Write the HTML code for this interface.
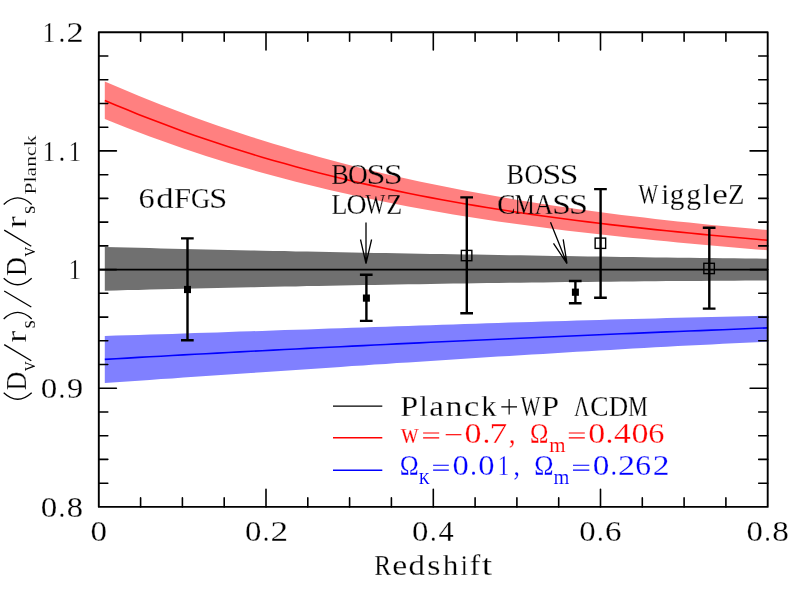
<!DOCTYPE html>
<html><head><meta charset="utf-8"><title>BAO distance ladder</title>
<style>html,body{margin:0;padding:0;background:#fff}svg{display:block;font-family:"Liberation Serif",serif}</style></head><body>
<svg width="797" height="592" viewBox="0 0 797 592">
<rect width="797" height="592" fill="#fff"/>
<path d="M104.8,81.4 L116.0,86.3 L127.3,91.0 L138.5,95.7 L149.7,100.3 L161.0,104.7 L172.2,109.1 L183.4,113.3 L194.7,117.4 L205.9,121.5 L217.2,125.4 L228.4,129.3 L239.6,133.0 L250.9,136.7 L262.1,140.3 L273.3,143.7 L284.6,147.1 L295.8,150.4 L307.0,153.6 L318.3,156.8 L329.5,159.8 L340.7,162.8 L352.0,165.7 L363.2,168.5 L374.5,171.2 L385.7,173.9 L396.9,176.4 L408.2,178.9 L419.4,181.4 L430.6,183.7 L441.9,186.0 L453.1,188.3 L464.3,190.5 L475.6,192.6 L486.8,194.6 L498.0,196.6 L509.3,198.5 L520.5,200.4 L531.8,202.2 L543.0,204.0 L554.2,205.7 L565.5,207.3 L576.7,208.9 L587.9,210.5 L599.2,212.0 L610.4,213.4 L621.6,214.9 L632.9,216.2 L644.1,217.6 L655.3,218.9 L666.6,220.2 L677.8,221.4 L689.1,222.6 L700.3,223.7 L711.5,224.9 L722.8,226.0 L734.0,227.0 L745.2,228.1 L756.5,229.1 L767.7,230.1 L767.7,250.3 L756.5,249.4 L745.2,248.4 L734.0,247.5 L722.8,246.5 L711.5,245.5 L700.3,244.5 L689.1,243.4 L677.8,242.4 L666.6,241.3 L655.3,240.2 L644.1,239.1 L632.9,238.0 L621.6,236.8 L610.4,235.6 L599.2,234.3 L587.9,233.1 L576.7,231.8 L565.5,230.4 L554.2,229.0 L543.0,227.6 L531.8,226.1 L520.5,224.6 L509.3,223.0 L498.0,221.4 L486.8,219.7 L475.6,218.0 L464.3,216.2 L453.1,214.4 L441.9,212.5 L430.6,210.6 L419.4,208.6 L408.2,206.5 L396.9,204.3 L385.7,202.1 L374.5,199.8 L363.2,197.5 L352.0,195.0 L340.7,192.5 L329.5,189.9 L318.3,187.3 L307.0,184.5 L295.8,181.7 L284.6,178.8 L273.3,175.8 L262.1,172.7 L250.9,169.5 L239.6,166.3 L228.4,162.9 L217.2,159.4 L205.9,155.9 L194.7,152.2 L183.4,148.4 L172.2,144.6 L161.0,140.6 L149.7,136.5 L138.5,132.3 L127.3,128.0 L116.0,123.6 L104.8,119.1Z" fill="#ff8080"/>
<path d="M104.8,100.4 L116.0,105.2 L127.3,109.8 L138.5,114.4 L149.7,118.8 L161.0,123.1 L172.2,127.3 L183.4,131.4 L194.7,135.4 L205.9,139.3 L217.2,143.0 L228.4,146.7 L239.6,150.3 L250.9,153.8 L262.1,157.2 L273.3,160.4 L284.6,163.6 L295.8,166.7 L307.0,169.8 L318.3,172.7 L329.5,175.5 L340.7,178.3 L352.0,181.0 L363.2,183.6 L374.5,186.1 L385.7,188.5 L396.9,190.9 L408.2,193.2 L419.4,195.5 L430.6,197.6 L441.9,199.7 L453.1,201.8 L464.3,203.7 L475.6,205.6 L486.8,207.5 L498.0,209.3 L509.3,211.0 L520.5,212.7 L531.8,214.4 L543.0,216.0 L554.2,217.5 L565.5,219.0 L576.7,220.5 L587.9,221.9 L599.2,223.2 L610.4,224.6 L621.6,225.9 L632.9,227.1 L644.1,228.4 L655.3,229.6 L666.6,230.7 L677.8,231.9 L689.1,233.0 L700.3,234.1 L711.5,235.2 L722.8,236.2 L734.0,237.3 L745.2,238.3 L756.5,239.3 L767.7,240.3" fill="none" stroke="#ff0000" stroke-width="1.6"/>
<path d="M104.8,246.9 L116.0,247.2 L127.3,247.5 L138.5,247.8 L149.7,248.1 L161.0,248.4 L172.2,248.7 L183.4,249.0 L194.7,249.3 L205.9,249.5 L217.2,249.7 L228.4,250.0 L239.6,250.2 L250.9,250.5 L262.1,250.7 L273.3,250.9 L284.6,251.1 L295.8,251.4 L307.0,251.6 L318.3,251.8 L329.5,252.0 L340.7,252.2 L352.0,252.4 L363.2,252.7 L374.5,252.9 L385.7,253.1 L396.9,253.3 L408.2,253.5 L419.4,253.7 L430.6,253.9 L441.9,254.1 L453.1,254.3 L464.3,254.4 L475.6,254.6 L486.8,254.8 L498.0,255.0 L509.3,255.2 L520.5,255.3 L531.8,255.5 L543.0,255.7 L554.2,255.9 L565.5,256.1 L576.7,256.2 L587.9,256.4 L599.2,256.6 L610.4,256.7 L621.6,256.9 L632.9,257.1 L644.1,257.2 L655.3,257.4 L666.6,257.5 L677.8,257.7 L689.1,257.8 L700.3,257.9 L711.5,258.1 L722.8,258.2 L734.0,258.3 L745.2,258.5 L756.5,258.6 L767.7,258.7 L767.7,280.5 L756.5,280.5 L745.2,280.6 L734.0,280.7 L722.8,280.7 L711.5,280.8 L700.3,280.9 L689.1,281.0 L677.8,281.1 L666.6,281.1 L655.3,281.2 L644.1,281.3 L632.9,281.4 L621.6,281.6 L610.4,281.7 L599.2,281.8 L587.9,281.9 L576.7,282.0 L565.5,282.1 L554.2,282.3 L543.0,282.4 L531.8,282.6 L520.5,282.7 L509.3,282.8 L498.0,283.0 L486.8,283.1 L475.6,283.3 L464.3,283.5 L453.1,283.6 L441.9,283.8 L430.6,284.0 L419.4,284.2 L408.2,284.3 L396.9,284.5 L385.7,284.7 L374.5,284.9 L363.2,285.1 L352.0,285.3 L340.7,285.5 L329.5,285.7 L318.3,285.9 L307.0,286.1 L295.8,286.4 L284.6,286.6 L273.3,286.8 L262.1,287.0 L250.9,287.3 L239.6,287.5 L228.4,287.8 L217.2,288.0 L205.9,288.3 L194.7,288.5 L183.4,288.8 L172.2,289.0 L161.0,289.3 L149.7,289.6 L138.5,289.9 L127.3,290.1 L116.0,290.4 L104.8,290.7Z" fill="#707070"/>
<path d="M98.8,269.6 L767.7,269.6" fill="none" stroke="#000" stroke-width="1.6"/>
<path d="M104.8,336.0 L116.0,335.6 L127.3,335.3 L138.5,334.9 L149.7,334.6 L161.0,334.2 L172.2,333.9 L183.4,333.5 L194.7,333.1 L205.9,332.8 L217.2,332.4 L228.4,332.0 L239.6,331.6 L250.9,331.3 L262.1,330.9 L273.3,330.5 L284.6,330.1 L295.8,329.7 L307.0,329.4 L318.3,329.0 L329.5,328.6 L340.7,328.2 L352.0,327.8 L363.2,327.4 L374.5,327.1 L385.7,326.7 L396.9,326.3 L408.2,325.9 L419.4,325.5 L430.6,325.2 L441.9,324.8 L453.1,324.4 L464.3,324.1 L475.6,323.7 L486.8,323.3 L498.0,323.0 L509.3,322.6 L520.5,322.3 L531.8,321.9 L543.0,321.6 L554.2,321.2 L565.5,320.9 L576.7,320.5 L587.9,320.2 L599.2,319.9 L610.4,319.6 L621.6,319.3 L632.9,319.0 L644.1,318.7 L655.3,318.4 L666.6,318.1 L677.8,317.8 L689.1,317.5 L700.3,317.3 L711.5,317.0 L722.8,316.7 L734.0,316.5 L745.2,316.3 L756.5,316.0 L767.7,315.8 L767.7,341.6 L756.5,342.2 L745.2,342.7 L734.0,343.3 L722.8,343.8 L711.5,344.4 L700.3,345.0 L689.1,345.5 L677.8,346.1 L666.6,346.7 L655.3,347.3 L644.1,348.0 L632.9,348.6 L621.6,349.2 L610.4,349.9 L599.2,350.5 L587.9,351.2 L576.7,351.8 L565.5,352.5 L554.2,353.2 L543.0,353.9 L531.8,354.5 L520.5,355.2 L509.3,355.9 L498.0,356.6 L486.8,357.3 L475.6,358.0 L464.3,358.8 L453.1,359.5 L441.9,360.2 L430.6,360.9 L419.4,361.7 L408.2,362.4 L396.9,363.1 L385.7,363.9 L374.5,364.6 L363.2,365.4 L352.0,366.1 L340.7,366.9 L329.5,367.7 L318.3,368.4 L307.0,369.2 L295.8,369.9 L284.6,370.7 L273.3,371.5 L262.1,372.2 L250.9,373.0 L239.6,373.8 L228.4,374.5 L217.2,375.3 L205.9,376.1 L194.7,376.8 L183.4,377.6 L172.2,378.4 L161.0,379.1 L149.7,379.9 L138.5,380.7 L127.3,381.4 L116.0,382.2 L104.8,382.9Z" fill="#8080ff"/>
<path d="M104.8,359.4 L116.0,358.7 L127.3,358.1 L138.5,357.4 L149.7,356.8 L161.0,356.2 L172.2,355.5 L183.4,354.9 L194.7,354.3 L205.9,353.7 L217.2,353.1 L228.4,352.5 L239.6,351.9 L250.9,351.3 L262.1,350.7 L273.3,350.1 L284.6,349.5 L295.8,349.0 L307.0,348.4 L318.3,347.8 L329.5,347.2 L340.7,346.7 L352.0,346.1 L363.2,345.6 L374.5,345.0 L385.7,344.5 L396.9,343.9 L408.2,343.4 L419.4,342.9 L430.6,342.3 L441.9,341.8 L453.1,341.3 L464.3,340.8 L475.6,340.2 L486.8,339.7 L498.0,339.2 L509.3,338.7 L520.5,338.2 L531.8,337.7 L543.0,337.2 L554.2,336.7 L565.5,336.2 L576.7,335.7 L587.9,335.3 L599.2,334.8 L610.4,334.3 L621.6,333.8 L632.9,333.4 L644.1,332.9 L655.3,332.4 L666.6,331.9 L677.8,331.5 L689.1,331.0 L700.3,330.6 L711.5,330.1 L722.8,329.7 L734.0,329.2 L745.2,328.8 L756.5,328.3 L767.7,327.9" fill="none" stroke="#0000ff" stroke-width="1.6"/>
<rect x="98.8" y="32.3" width="668.9" height="474.6" fill="none" stroke="#000" stroke-width="1.9" stroke-linejoin="round"/>
<path d="M140.6,506.9 v-9.0 M140.6,32.3 v9.0 M182.4,506.9 v-9.0 M182.4,32.3 v9.0 M224.2,506.9 v-9.0 M224.2,32.3 v9.0 M266.0,506.9 v-17.6 M266.0,32.3 v17.6 M307.8,506.9 v-9.0 M307.8,32.3 v9.0 M349.6,506.9 v-9.0 M349.6,32.3 v9.0 M391.4,506.9 v-9.0 M391.4,32.3 v9.0 M433.3,506.9 v-17.6 M433.3,32.3 v17.6 M475.1,506.9 v-9.0 M475.1,32.3 v9.0 M516.9,506.9 v-9.0 M516.9,32.3 v9.0 M558.7,506.9 v-9.0 M558.7,32.3 v9.0 M600.5,506.9 v-17.6 M600.5,32.3 v17.6 M642.3,506.9 v-9.0 M642.3,32.3 v9.0 M684.1,506.9 v-9.0 M684.1,32.3 v9.0 M725.9,506.9 v-9.0 M725.9,32.3 v9.0 M98.8,483.2 h9.0 M767.7,483.2 h-9.0 M98.8,459.4 h9.0 M767.7,459.4 h-9.0 M98.8,435.7 h9.0 M767.7,435.7 h-9.0 M98.8,412.0 h9.0 M767.7,412.0 h-9.0 M98.8,388.2 h17.6 M767.7,388.2 h-17.6 M98.8,364.5 h9.0 M767.7,364.5 h-9.0 M98.8,340.8 h9.0 M767.7,340.8 h-9.0 M98.8,317.1 h9.0 M767.7,317.1 h-9.0 M98.8,293.3 h9.0 M767.7,293.3 h-9.0 M98.8,269.6 h17.6 M767.7,269.6 h-17.6 M98.8,245.9 h9.0 M767.7,245.9 h-9.0 M98.8,222.1 h9.0 M767.7,222.1 h-9.0 M98.8,198.4 h9.0 M767.7,198.4 h-9.0 M98.8,174.7 h9.0 M767.7,174.7 h-9.0 M98.8,150.9 h17.6 M767.7,150.9 h-17.6 M98.8,127.2 h9.0 M767.7,127.2 h-9.0 M98.8,103.5 h9.0 M767.7,103.5 h-9.0 M98.8,79.8 h9.0 M767.7,79.8 h-9.0 M98.8,56.0 h9.0 M767.7,56.0 h-9.0" stroke="#000" stroke-width="1.6" stroke-linecap="round" fill="none"/>
<path d="M187.5,238.4 V340.2 M181.0,238.4 h12.7 M181.0,340.2 h12.7" stroke="#000" stroke-width="2.4" fill="none"/>
<rect x="184.0" y="285.9" width="7" height="7.2" fill="#000"/>
<path d="M366.4,274.8 V320.9 M359.9,274.8 h12.7 M359.9,320.9 h12.7" stroke="#000" stroke-width="2.4" fill="none"/>
<rect x="362.9" y="294.5" width="7" height="7.2" fill="#000"/>
<path d="M466.8,197.4 V313.3 M460.3,197.4 h12.7 M460.3,313.3 h12.7" stroke="#000" stroke-width="2.4" fill="none"/>
<rect x="461.35" y="250.40" width="10.5" height="10.3" fill="none" stroke="#000" stroke-width="1.4"/>
<path d="M575.4,281 V303.3 M568.9,281 h12.7 M568.9,303.3 h12.7" stroke="#000" stroke-width="2.4" fill="none"/>
<rect x="571.9" y="288.6" width="7" height="7.2" fill="#000"/>
<path d="M600.6,189.1 V297.7 M594.1,189.1 h12.7 M594.1,297.7 h12.7" stroke="#000" stroke-width="2.4" fill="none"/>
<rect x="595.15" y="238.10" width="10.5" height="10.3" fill="none" stroke="#000" stroke-width="1.4"/>
<path d="M709.3,227.7 V308.6 M702.8,227.7 h12.7 M702.8,308.6 h12.7" stroke="#000" stroke-width="2.4" fill="none"/>
<rect x="703.85" y="263.30" width="10.5" height="10.3" fill="none" stroke="#000" stroke-width="1.4"/>
<path d="M366,222.5 V263.6 M360.5,239.5 L366,263.6 L371.6,239.5" stroke="#000" stroke-width="1.3" fill="none"/>
<path d="M550.5,222.2 L567,263.6 M553.5,243.3 L567,263.6 L563.2,239.3" stroke="#000" stroke-width="1.3" fill="none"/>
<path d="M333,406.1 H382.3" stroke="#000" stroke-width="1.4"/>
<path d="M333,437.7 H382.3" stroke="#f00" stroke-width="1.4"/>
<path d="M333,470.2 H382.3" stroke="#00f" stroke-width="1.4"/>
<path d="M501.3,406.8 H517 M509.15,399.0 V414.6" stroke="#000" stroke-width="1.15" fill="none"/>
<path d="M423.1,433.0 H439.2 M423.1,437.9 H439.2" stroke="#ff0000" stroke-width="1.15" fill="none"/>
<path d="M445.7,434.7 H461.4" stroke="#ff0000" stroke-width="1.15" fill="none"/>
<path d="M568.8,433.0 H584.8 M568.8,437.9 H584.8" stroke="#ff0000" stroke-width="1.15" fill="none"/>
<path d="M433.1,465.2 H448.8 M433.1,470.1 H448.8" stroke="#0000ff" stroke-width="1.15" fill="none"/>
<path d="M573,465.2 H589.3 M573,470.1 H589.3" stroke="#0000ff" stroke-width="1.15" fill="none"/>
<g transform="translate(26.2,401.2) rotate(-90)">
<path d="M8.4,-22.5 Q-4.6,-8.5 8.4,5.5" stroke="#000" stroke-width="1.3" fill="none"/>
<path d="M40.5,5.1 L56.6,-22" stroke="#000" stroke-width="1.3" fill="none"/>
<path d="M82.3,-22.5 Q95.3,-8.5 82.3,5.5" stroke="#000" stroke-width="1.3" fill="none"/>
<path d="M122.9,-22.5 Q109.9,-8.5 122.9,5.5" stroke="#000" stroke-width="1.3" fill="none"/>
<path d="M155.0,5.1 L171.1,-22" stroke="#000" stroke-width="1.3" fill="none"/>
<path d="M196.8,-22.5 Q209.8,-8.5 196.8,5.5" stroke="#000" stroke-width="1.3" fill="none"/>
<path d="M94.2,5.1 L110.2,-22" stroke="#000" stroke-width="1.3" fill="none"/>
</g>
<mask id="mk" maskUnits="userSpaceOnUse" x="0" y="0" width="797" height="592">
<text transform="translate(42.75,42.00) scale(0.842,1.000)" font-size="29" fill="#fff" font-family="Liberation Serif" stroke="#000" stroke-width="0.32">1</text>
<text transform="translate(58.63,42.00) scale(0.875,1.000)" font-size="29" fill="#fff" font-family="Liberation Serif" stroke="#000" stroke-width="0.32">.</text>
<text transform="translate(66.49,42.00) scale(1.187,1.000)" font-size="29" fill="#fff" font-family="Liberation Serif" stroke="#000" stroke-width="0.32">2</text>
<text transform="translate(42.75,160.65) scale(0.842,1.000)" font-size="29" fill="#fff" font-family="Liberation Serif" stroke="#000" stroke-width="0.32">1</text>
<text transform="translate(58.63,160.65) scale(0.875,1.000)" font-size="29" fill="#fff" font-family="Liberation Serif" stroke="#000" stroke-width="0.32">.</text>
<text transform="translate(68.70,160.65) scale(0.823,1.000)" font-size="29" fill="#fff" font-family="Liberation Serif" stroke="#000" stroke-width="0.32">1</text>
<text transform="translate(68.70,279.30) scale(0.823,1.000)" font-size="29" fill="#fff" font-family="Liberation Serif" stroke="#000" stroke-width="0.32">1</text>
<text transform="translate(40.74,397.95) scale(1.139,1.000)" font-size="29" fill="#fff" font-family="Liberation Serif" stroke="#000" stroke-width="0.32">0</text>
<text transform="translate(58.63,397.95) scale(0.875,1.000)" font-size="29" fill="#fff" font-family="Liberation Serif" stroke="#000" stroke-width="0.32">.</text>
<text transform="translate(66.96,397.95) scale(1.115,1.000)" font-size="29" fill="#fff" font-family="Liberation Serif" stroke="#000" stroke-width="0.32">9</text>
<text transform="translate(40.74,516.60) scale(1.139,1.000)" font-size="29" fill="#fff" font-family="Liberation Serif" stroke="#000" stroke-width="0.32">0</text>
<text transform="translate(58.63,516.60) scale(0.875,1.000)" font-size="29" fill="#fff" font-family="Liberation Serif" stroke="#000" stroke-width="0.32">.</text>
<text transform="translate(66.76,516.60) scale(1.123,1.000)" font-size="29" fill="#fff" font-family="Liberation Serif" stroke="#000" stroke-width="0.32">8</text>
<text transform="translate(90.54,540.60) scale(1.139,1.000)" font-size="29" fill="#fff" font-family="Liberation Serif" stroke="#000" stroke-width="0.32">0</text>
<text transform="translate(244.88,540.60) scale(1.131,1.000)" font-size="29" fill="#fff" font-family="Liberation Serif" stroke="#000" stroke-width="0.32">0</text>
<text transform="translate(262.91,540.60) scale(0.846,1.000)" font-size="29" fill="#fff" font-family="Liberation Serif" stroke="#000" stroke-width="0.32">.</text>
<text transform="translate(270.38,540.60) scale(1.213,1.000)" font-size="29" fill="#fff" font-family="Liberation Serif" stroke="#000" stroke-width="0.32">2</text>
<text transform="translate(412.10,540.60) scale(1.131,1.000)" font-size="29" fill="#fff" font-family="Liberation Serif" stroke="#000" stroke-width="0.32">0</text>
<text transform="translate(430.13,540.60) scale(0.846,1.000)" font-size="29" fill="#fff" font-family="Liberation Serif" stroke="#000" stroke-width="0.32">.</text>
<text transform="translate(438.56,540.60) scale(1.046,1.000)" font-size="29" fill="#fff" font-family="Liberation Serif" stroke="#000" stroke-width="0.32">4</text>
<text transform="translate(579.33,540.60) scale(1.131,1.000)" font-size="29" fill="#fff" font-family="Liberation Serif" stroke="#000" stroke-width="0.32">0</text>
<text transform="translate(597.36,540.60) scale(0.846,1.000)" font-size="29" fill="#fff" font-family="Liberation Serif" stroke="#000" stroke-width="0.32">.</text>
<text transform="translate(604.96,540.60) scale(1.138,1.000)" font-size="29" fill="#fff" font-family="Liberation Serif" stroke="#000" stroke-width="0.32">6</text>
<text transform="translate(746.55,540.60) scale(1.131,1.000)" font-size="29" fill="#fff" font-family="Liberation Serif" stroke="#000" stroke-width="0.32">0</text>
<text transform="translate(764.58,540.60) scale(0.846,1.000)" font-size="29" fill="#fff" font-family="Liberation Serif" stroke="#000" stroke-width="0.32">.</text>
<text transform="translate(772.33,540.60) scale(1.147,1.000)" font-size="29" fill="#fff" font-family="Liberation Serif" stroke="#000" stroke-width="0.32">8</text>
<text transform="translate(374.27,574.50) scale(0.872,1.000)" font-size="29" fill="#fff" font-family="Liberation Serif" stroke="#000" stroke-width="0.32">R</text>
<text transform="translate(392.28,574.50) scale(1.165,1.045)" font-size="29" fill="#fff" font-family="Liberation Serif" stroke="#000" stroke-width="0.32">e</text>
<text transform="translate(408.51,574.50) scale(1.138,1.000)" font-size="29" fill="#fff" font-family="Liberation Serif" stroke="#000" stroke-width="0.32">d</text>
<text transform="translate(427.21,574.50) scale(1.171,1.045)" font-size="29" fill="#fff" font-family="Liberation Serif" stroke="#000" stroke-width="0.32">s</text>
<text transform="translate(442.79,574.50) scale(1.077,1.000)" font-size="29" fill="#fff" font-family="Liberation Serif" stroke="#000" stroke-width="0.32">h</text>
<text transform="translate(460.87,574.50) scale(0.870,1.000)" font-size="29" fill="#fff" font-family="Liberation Serif" stroke="#000" stroke-width="0.32">i</text>
<text transform="translate(469.73,574.50) scale(1.084,1.000)" font-size="29" fill="#fff" font-family="Liberation Serif" stroke="#000" stroke-width="0.32">f</text>
<text transform="translate(481.64,574.50) scale(1.289,1.000)" font-size="29" fill="#fff" font-family="Liberation Serif" stroke="#000" stroke-width="0.32">t</text>
<text transform="translate(138.51,207.80) scale(1.114,1.000)" font-size="29" fill="#fff" font-family="Liberation Serif" stroke="#000" stroke-width="0.32">6</text>
<text transform="translate(156.24,207.80) scale(1.199,1.000)" font-size="29" fill="#fff" font-family="Liberation Serif" stroke="#000" stroke-width="0.32">d</text>
<text transform="translate(174.11,207.80) scale(1.060,1.000)" font-size="29" fill="#fff" font-family="Liberation Serif" stroke="#000" stroke-width="0.32">F</text>
<text transform="translate(190.91,207.80) scale(0.918,1.000)" font-size="29" fill="#fff" font-family="Liberation Serif" stroke="#000" stroke-width="0.32">G</text>
<text transform="translate(209.24,207.80) scale(1.114,1.000)" font-size="29" fill="#fff" font-family="Liberation Serif" stroke="#000" stroke-width="0.32">S</text>
<text transform="translate(331.14,183.60) scale(0.907,1.000)" font-size="29" fill="#fff" font-family="Liberation Serif" stroke="#000" stroke-width="0.32">B</text>
<text transform="translate(347.98,183.60) scale(0.943,1.000)" font-size="29" fill="#fff" font-family="Liberation Serif" stroke="#000" stroke-width="0.32">O</text>
<text transform="translate(366.61,183.60) scale(1.178,1.000)" font-size="29" fill="#fff" font-family="Liberation Serif" stroke="#000" stroke-width="0.32">S</text>
<text transform="translate(383.81,183.60) scale(1.178,1.000)" font-size="29" fill="#fff" font-family="Liberation Serif" stroke="#000" stroke-width="0.32">S</text>
<text transform="translate(331.14,213.90) scale(0.912,1.000)" font-size="29" fill="#fff" font-family="Liberation Serif" stroke="#000" stroke-width="0.32">L</text>
<text transform="translate(346.56,213.90) scale(0.959,1.000)" font-size="29" fill="#fff" font-family="Liberation Serif" stroke="#000" stroke-width="0.32">O</text>
<text transform="translate(365.51,213.90) scale(0.720,1.000)" font-size="29" fill="#fff" font-family="Liberation Serif" stroke="#000" stroke-width="0.32">W</text>
<text transform="translate(386.26,213.90) scale(0.895,1.000)" font-size="29" fill="#fff" font-family="Liberation Serif" stroke="#000" stroke-width="0.32">Z</text>
<text transform="translate(506.55,183.70) scale(0.901,1.000)" font-size="29" fill="#fff" font-family="Liberation Serif" stroke="#000" stroke-width="0.32">B</text>
<text transform="translate(524.54,183.70) scale(0.894,1.000)" font-size="29" fill="#fff" font-family="Liberation Serif" stroke="#000" stroke-width="0.32">O</text>
<text transform="translate(542.45,183.70) scale(1.162,1.000)" font-size="29" fill="#fff" font-family="Liberation Serif" stroke="#000" stroke-width="0.32">S</text>
<text transform="translate(559.76,183.70) scale(1.154,1.000)" font-size="29" fill="#fff" font-family="Liberation Serif" stroke="#000" stroke-width="0.32">S</text>
<text transform="translate(497.17,213.50) scale(0.948,1.000)" font-size="29" fill="#fff" font-family="Liberation Serif" stroke="#000" stroke-width="0.32">C</text>
<text transform="translate(514.55,213.50) scale(0.780,1.000)" font-size="29" fill="#fff" font-family="Liberation Serif" stroke="#000" stroke-width="0.32">M</text>
<text transform="translate(534.45,213.50) scale(0.890,1.000)" font-size="29" fill="#fff" font-family="Liberation Serif" stroke="#000" stroke-width="0.32">A</text>
<text transform="translate(552.26,213.50) scale(1.154,1.000)" font-size="29" fill="#fff" font-family="Liberation Serif" stroke="#000" stroke-width="0.32">S</text>
<text transform="translate(569.01,213.50) scale(1.178,1.000)" font-size="29" fill="#fff" font-family="Liberation Serif" stroke="#000" stroke-width="0.32">S</text>
<text transform="translate(638.56,204.40) scale(0.720,1.000)" font-size="29" fill="#fff" font-family="Liberation Serif" stroke="#000" stroke-width="0.32">W</text>
<text transform="translate(661.30,204.40) scale(0.986,1.000)" font-size="29" fill="#fff" font-family="Liberation Serif" stroke="#000" stroke-width="0.32">i</text>
<text transform="translate(669.74,204.40) scale(1.008,1.045)" font-size="29" fill="#fff" font-family="Liberation Serif" stroke="#000" stroke-width="0.32">g</text>
<text transform="translate(686.22,204.40) scale(1.023,1.045)" font-size="29" fill="#fff" font-family="Liberation Serif" stroke="#000" stroke-width="0.32">g</text>
<text transform="translate(703.36,204.40) scale(0.928,1.000)" font-size="29" fill="#fff" font-family="Liberation Serif" stroke="#000" stroke-width="0.32">l</text>
<text transform="translate(712.00,204.40) scale(1.239,1.045)" font-size="29" fill="#fff" font-family="Liberation Serif" stroke="#000" stroke-width="0.32">e</text>
<text transform="translate(728.12,204.40) scale(0.923,1.000)" font-size="29" fill="#fff" font-family="Liberation Serif" stroke="#000" stroke-width="0.32">Z</text>
<text transform="translate(400.17,415.60) scale(1.111,1.000)" font-size="29" fill="#fff" font-family="Liberation Serif" stroke="#000" stroke-width="0.32">P</text>
<text transform="translate(419.40,415.60) scale(1.030,1.000)" font-size="29" fill="#fff" font-family="Liberation Serif" stroke="#000" stroke-width="0.32">l</text>
<text transform="translate(429.24,415.60) scale(1.135,1.045)" font-size="29" fill="#fff" font-family="Liberation Serif" stroke="#000" stroke-width="0.32">a</text>
<text transform="translate(445.52,415.60) scale(1.172,1.045)" font-size="29" fill="#fff" font-family="Liberation Serif" stroke="#000" stroke-width="0.32">n</text>
<text transform="translate(463.76,415.60) scale(1.214,1.045)" font-size="29" fill="#fff" font-family="Liberation Serif" stroke="#000" stroke-width="0.32">c</text>
<text transform="translate(481.23,415.60) scale(1.040,1.000)" font-size="29" fill="#fff" font-family="Liberation Serif" stroke="#000" stroke-width="0.32">k</text>
<text transform="translate(520.81,415.60) scale(0.720,1.000)" font-size="29" fill="#fff" font-family="Liberation Serif" stroke="#000" stroke-width="0.32">W</text>
<text transform="translate(541.49,415.60) scale(1.090,1.000)" font-size="29" fill="#fff" font-family="Liberation Serif" stroke="#000" stroke-width="0.32">P</text>
<text transform="translate(573.89,415.60) scale(0.734,1.000)" font-size="29" fill="#fff" font-family="Liberation Serif" stroke="#000" stroke-width="0.32">Λ</text>
<text transform="translate(590.17,415.60) scale(0.948,1.000)" font-size="29" fill="#fff" font-family="Liberation Serif" stroke="#000" stroke-width="0.32">C</text>
<text transform="translate(608.72,415.60) scale(0.929,1.000)" font-size="29" fill="#fff" font-family="Liberation Serif" stroke="#000" stroke-width="0.32">D</text>
<text transform="translate(628.37,415.60) scale(0.755,1.000)" font-size="29" fill="#fff" font-family="Liberation Serif" stroke="#000" stroke-width="0.32">M</text>
<text transform="translate(26.2,401.2) rotate(-90) translate(10.65,0.00) scale(0.892,1.000)" font-size="29" fill="#fff" font-family="Liberation Serif" stroke="#000" stroke-width="0.32">D</text>
<text transform="translate(26.2,401.2) rotate(-90) translate(30.04,8.60) scale(0.889,1.000)" font-size="15.6" fill="#fff" font-family="Liberation Serif">V</text>
<text transform="translate(26.2,401.2) rotate(-90) translate(58.38,0.00) scale(1.247,1.045)" font-size="29" fill="#fff" font-family="Liberation Serif" stroke="#000" stroke-width="0.32">r</text>
<text transform="translate(26.2,401.2) rotate(-90) translate(72.62,8.40) scale(1.074,1.045)" font-size="20" fill="#fff" font-family="Liberation Serif" stroke="#000" stroke-width="0.2">s</text>
<text transform="translate(26.2,401.2) rotate(-90) translate(125.15,0.00) scale(0.892,1.000)" font-size="29" fill="#fff" font-family="Liberation Serif" stroke="#000" stroke-width="0.32">D</text>
<text transform="translate(26.2,401.2) rotate(-90) translate(144.54,8.60) scale(0.889,1.000)" font-size="15.6" fill="#fff" font-family="Liberation Serif">V</text>
<text transform="translate(26.2,401.2) rotate(-90) translate(172.88,0.00) scale(1.247,1.045)" font-size="29" fill="#fff" font-family="Liberation Serif" stroke="#000" stroke-width="0.32">r</text>
<text transform="translate(26.2,401.2) rotate(-90) translate(187.12,8.40) scale(1.074,1.045)" font-size="20" fill="#fff" font-family="Liberation Serif" stroke="#000" stroke-width="0.2">s</text>
<text transform="translate(26.2,401.2) rotate(-90)" x="206.6" y="9.3" font-size="17" fill="#fff" stroke="#000" stroke-width="0.25" textLength="59.2" lengthAdjust="spacingAndGlyphs" font-family="Liberation Serif">Planck</text>
</mask>
<rect x="0" y="0" width="797" height="592" fill="#000" mask="url(#mk)"/>
<mask id="mr" maskUnits="userSpaceOnUse" x="0" y="0" width="797" height="592">
<text transform="translate(400.78,443.10) scale(0.861,1.045)" font-size="29" fill="#fff" font-family="Liberation Serif" stroke="#000" stroke-width="0.32">w</text>
<text transform="translate(464.51,442.80) scale(1.172,1.000)" font-size="29" fill="#fff" font-family="Liberation Serif" stroke="#000" stroke-width="0.32">0</text>
<text transform="translate(482.65,442.80) scale(1.021,1.000)" font-size="29" fill="#fff" font-family="Liberation Serif" stroke="#000" stroke-width="0.32">.</text>
<text transform="translate(489.56,442.80) scale(1.225,1.000)" font-size="29" fill="#fff" font-family="Liberation Serif" stroke="#000" stroke-width="0.32">7</text>
<text transform="translate(508.75,442.80) scale(0.949,1.000)" font-size="29" fill="#fff" font-family="Liberation Serif" stroke="#000" stroke-width="0.32">,</text>
<text transform="translate(529.91,442.80) scale(0.857,1.000)" font-size="29" fill="#fff" font-family="Liberation Serif" stroke="#000" stroke-width="0.32">Ω</text>
<text transform="translate(549.16,451.90) scale(1.046,1.045)" font-size="20" fill="#fff" font-family="Liberation Serif" stroke="#000" stroke-width="0.2">m</text>
<text transform="translate(588.21,442.80) scale(1.172,1.000)" font-size="29" fill="#fff" font-family="Liberation Serif" stroke="#000" stroke-width="0.32">0</text>
<text transform="translate(605.75,442.80) scale(1.021,1.000)" font-size="29" fill="#fff" font-family="Liberation Serif" stroke="#000" stroke-width="0.32">.</text>
<text transform="translate(613.94,442.80) scale(1.157,1.000)" font-size="29" fill="#fff" font-family="Liberation Serif" stroke="#000" stroke-width="0.32">4</text>
<text transform="translate(631.51,442.80) scale(1.172,1.000)" font-size="29" fill="#fff" font-family="Liberation Serif" stroke="#000" stroke-width="0.32">0</text>
<text transform="translate(648.31,442.80) scale(1.114,1.000)" font-size="29" fill="#fff" font-family="Liberation Serif" stroke="#000" stroke-width="0.32">6</text>
</mask>
<rect x="0" y="0" width="797" height="592" fill="#ff0000" mask="url(#mr)"/>
<mask id="mb" maskUnits="userSpaceOnUse" x="0" y="0" width="797" height="592">
<text transform="translate(399.78,475.00) scale(0.879,1.000)" font-size="29" fill="#fff" font-family="Liberation Serif" stroke="#000" stroke-width="0.32">Ω</text>
<text transform="translate(418.88,483.60) scale(0.871,1.000)" font-size="16.8" fill="#fff" font-family="Liberation Serif">K</text>
<text transform="translate(452.56,475.00) scale(1.123,1.000)" font-size="29" fill="#fff" font-family="Liberation Serif" stroke="#000" stroke-width="0.32">0</text>
<text transform="translate(470.17,475.00) scale(0.905,1.000)" font-size="29" fill="#fff" font-family="Liberation Serif" stroke="#000" stroke-width="0.32">.</text>
<text transform="translate(478.16,475.00) scale(1.123,1.000)" font-size="29" fill="#fff" font-family="Liberation Serif" stroke="#000" stroke-width="0.32">0</text>
<text transform="translate(497.65,475.00) scale(0.803,1.000)" font-size="29" fill="#fff" font-family="Liberation Serif" stroke="#000" stroke-width="0.32">1</text>
<text transform="translate(513.43,475.00) scale(0.880,1.000)" font-size="29" fill="#fff" font-family="Liberation Serif" stroke="#000" stroke-width="0.32">,</text>
<text transform="translate(534.16,475.00) scale(0.895,1.000)" font-size="29" fill="#fff" font-family="Liberation Serif" stroke="#000" stroke-width="0.32">Ω</text>
<text transform="translate(553.47,483.90) scale(1.019,1.045)" font-size="20" fill="#fff" font-family="Liberation Serif" stroke="#000" stroke-width="0.2">m</text>
<text transform="translate(592.73,475.00) scale(1.147,1.000)" font-size="29" fill="#fff" font-family="Liberation Serif" stroke="#000" stroke-width="0.32">0</text>
<text transform="translate(610.68,475.00) scale(0.846,1.000)" font-size="29" fill="#fff" font-family="Liberation Serif" stroke="#000" stroke-width="0.32">.</text>
<text transform="translate(618.11,475.00) scale(1.170,1.000)" font-size="29" fill="#fff" font-family="Liberation Serif" stroke="#000" stroke-width="0.32">2</text>
<text transform="translate(635.34,475.00) scale(1.090,1.000)" font-size="29" fill="#fff" font-family="Liberation Serif" stroke="#000" stroke-width="0.32">6</text>
<text transform="translate(652.63,475.00) scale(1.153,1.000)" font-size="29" fill="#fff" font-family="Liberation Serif" stroke="#000" stroke-width="0.32">2</text>
</mask>
<rect x="0" y="0" width="797" height="592" fill="#0000ff" mask="url(#mb)"/>
</svg></body></html>
